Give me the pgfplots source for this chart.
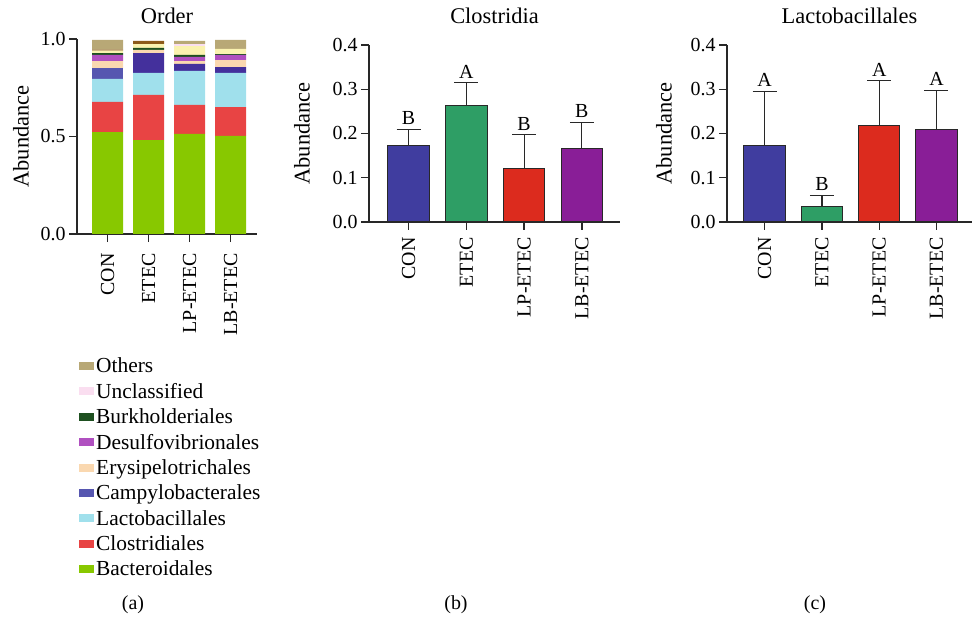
\documentclass[border=0pt]{standalone}
\usepackage{fontspec}
\setmainfont{Liberation Serif}
\usepackage{pgfplots}
\usepackage{pgfplotstable}
\pgfplotsset{compat=1.18}

\newcommand\fs{\fontsize{20}{24}\selectfont}
\newcommand\fl{\fontsize{22.5}{26}\selectfont}
\newcommand\fg{\fontsize{21.5}{25}\selectfont}

% stacked bars, panel (a): x = group, one column per order
\pgfplotstableread{
x   bac   clo   lac   cam   dpu   ery   des   bur   lye   unc   bro   oth
1   0.523 0.154 0.118 0.056 0.000 0.036 0.031 0.010 0.012 0.000 0.006 0.049
2   0.482 0.231 0.113 0.000 0.102 0.016 0.000 0.010 0.020 0.000 0.016 0.000
3   0.513 0.149 0.174 0.000 0.036 0.015 0.021 0.010 0.046 0.010 0.000 0.016
4   0.503 0.148 0.175 0.000 0.030 0.036 0.026 0.005 0.026 0.000 0.000 0.046
}\orderdata

\definecolor{cBac}{RGB}{136,200,0}
\definecolor{cClo}{RGB}{232,68,68}
\definecolor{cLac}{RGB}{160,224,236}
\definecolor{cCam}{RGB}{86,86,176}
\definecolor{cDpu}{RGB}{68,48,156}
\definecolor{cEry}{RGB}{250,216,176}
\definecolor{cDes}{RGB}{176,80,192}
\definecolor{cBur}{RGB}{30,80,32}
\definecolor{cLye}{RGB}{250,242,176}
\definecolor{cUnc}{RGB}{250,222,240}
\definecolor{cBro}{RGB}{140,90,26}
\definecolor{cOth}{RGB}{184,168,118}

\definecolor{gCon}{RGB}{64,61,159}
\definecolor{gEtec}{RGB}{46,158,101}
\definecolor{gLp}{RGB}{220,43,30}
\definecolor{gLb}{RGB}{137,30,151}
\definecolor{axcol}{RGB}{40,40,40}

\pgfplotsset{
  panel/.style={
    scale only axis,
    axis lines=left,
    axis line style={-, line width=1.4bp, axcol},
    tick style={line width=1.4bp, axcol},
    major tick length=8bp,
    tick align=outside,
    tick label style={font=\fs},
    label style={font=\fl},
    xtick={1,2,3,4},
    xticklabels={CON,ETEC,LP-ETEC,LB-ETEC},
    x tick label style={rotate=90, anchor=east},
    /pgf/number format/assume math mode=true,
    /pgf/number format/fixed,
    /pgf/number format/fixed zerofill,
    /pgf/number format/precision=1,
    ylabel={Abundance},
    ylabel style={at={(axis description cs:0,0.5)}, anchor=center},
    title style={font=\fl, at={(axis description cs:0.5,1)}, anchor=base},
    ymin=0,
  },
  gbar/.style={ybar, bar shift=0pt, bar width=41.5bp, fill=#1, draw=axcol, line width=1bp,
    error bars/.cd, y dir=plus, y explicit,
    error bar style={line width=1.2bp, axcol},
    error mark options={rotate=90, mark size=12bp, line width=1.2bp, axcol}},
  letters/.style={draw=none, mark=none, nodes near coords, point meta=explicit symbolic,
    nodes near coords style={anchor=south, font=\fs, yshift=1bp}},
  lg/.style={legend image code/.code={\fill[##1] (0bp,-4bp) rectangle (15bp,4bp);}},
}

\begin{document}
\begin{tikzpicture}
\path[use as bounding box] (0,0) rectangle (974bp,622bp);

% (a) Order
\begin{axis}[panel,
  at={(77bp,388bp)}, anchor=south west,
  width=180bp, height=195bp,
  xmin=0.256, xmax=4.646,
  ymax=1.0, ytick={0,0.5,1},
  xticklabel shift=8bp,
  ybar stacked, bar width=31bp,
  title={Order}, title style={yshift=10bp},
  ylabel style={yshift=56bp},
  legend style={draw=none, fill=none, at={(axis description cs:0,0)}, anchor=north west,
    yshift=-121.5bp, xshift=2bp, font=\fg, inner sep=0pt,
    row sep=5bp, cells={anchor=west}},
  reverse legend,
]
\addplot[fill=cBac, draw=none, lg] table[x=x,y=bac]{\orderdata};
\addlegendentry{Bacteroidales}
\addplot[fill=cClo, draw=none, lg] table[x=x,y=clo]{\orderdata};
\addlegendentry{Clostridiales}
\addplot[fill=cLac, draw=none, lg] table[x=x,y=lac]{\orderdata};
\addlegendentry{Lactobacillales}
\addplot[fill=cCam, draw=none, lg] table[x=x,y=cam]{\orderdata};
\addlegendentry{Campylobacterales}
\addplot[fill=cDpu, draw=none, forget plot] table[x=x,y=dpu]{\orderdata};
\addplot[fill=cEry, draw=none, lg] table[x=x,y=ery]{\orderdata};
\addlegendentry{Erysipelotrichales}
\addplot[fill=cDes, draw=none, lg] table[x=x,y=des]{\orderdata};
\addlegendentry{Desulfovibrionales}
\addplot[fill=cBur, draw=none, lg] table[x=x,y=bur]{\orderdata};
\addlegendentry{Burkholderiales}
\addplot[fill=cLye, draw=none, forget plot] table[x=x,y=lye]{\orderdata};
\addplot[fill=cUnc, draw=none, lg] table[x=x,y=unc]{\orderdata};
\addlegendentry{Unclassified}
\addplot[fill=cBro, draw=none, forget plot] table[x=x,y=bro]{\orderdata};
\addplot[fill=cOth, draw=none, lg] table[x=x,y=oth]{\orderdata};
\addlegendentry{Others}
\end{axis}

% (b) Clostridia
\begin{axis}[panel,
  at={(369bp,400bp)}, anchor=south west,
  width=251bp, height=177bp,
  xmin=0.315, xmax=4.66,
  ymax=0.4, ytick={0,0.1,0.2,0.3,0.4},
  xticklabel shift=4bp,
  title={Clostridia}, title style={yshift=16bp},
  ylabel style={yshift=67bp},
]
\addplot[gbar=gCon]  coordinates {(1,0.173) +- (0,0.036)};
\addplot[gbar=gEtec] coordinates {(2,0.264) +- (0,0.051)};
\addplot[gbar=gLp]   coordinates {(3,0.121) +- (0,0.076)};
\addplot[gbar=gLb]   coordinates {(4,0.166) +- (0,0.059)};
\addplot[letters] coordinates {(1,0.209) [B] (2,0.315) [A] (3,0.197) [B] (4,0.225) [B]};
\end{axis}

% (c) Lactobacillales
\begin{axis}[panel,
  at={(727bp,400bp)}, anchor=south west,
  width=245bp, height=177bp,
  xmin=0.343, xmax=4.62,
  ymax=0.4, ytick={0,0.1,0.2,0.3,0.4},
  xticklabel shift=4bp,
  title={Lactobacillales}, title style={yshift=16bp},
  ylabel style={yshift=63bp},
]
\addplot[gbar=gCon]  coordinates {(1,0.173) +- (0,0.122)};
\addplot[gbar=gEtec] coordinates {(2,0.034) +- (0,0.026)};
\addplot[gbar=gLp]   coordinates {(3,0.217) +- (0,0.102)};
\addplot[gbar=gLb]   coordinates {(4,0.209) +- (0,0.089)};
\addplot[letters] coordinates {(1,0.295) [A] (2,0.060) [B] (3,0.319) [A] (4,0.298) [A]};
\end{axis}

\node[font=\fs] at (133bp,17bp) {(a)};
\node[font=\fs] at (456bp,17bp) {(b)};
\node[font=\fs] at (815bp,17bp) {(c)};
\end{tikzpicture}
\end{document}
